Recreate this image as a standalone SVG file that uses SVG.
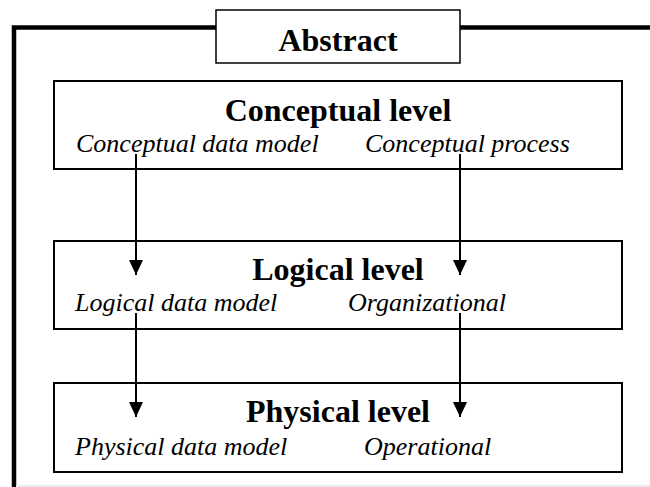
<svg xmlns="http://www.w3.org/2000/svg" width="650" height="487" viewBox="0 0 650 487">
  <defs>
    <style>
      .frame { fill: none; stroke: #000; stroke-width: 4.5; }
      .box { fill: #fff; stroke: #000; stroke-width: 2; }
      .tag { fill: #fff; stroke: #000; stroke-width: 1.5; }
      .title { font-family: "Liberation Serif", "Times New Roman", serif; font-weight: bold; font-size: 32px; fill: #000; text-anchor: middle; }
      .item { font-family: "Liberation Serif", "Times New Roman", serif; font-style: italic; font-size: 26px; fill: #000; }
      .link { fill: none; stroke: #000; stroke-width: 2; marker-end: url(#head); }
    </style>
    <marker id="head" markerUnits="userSpaceOnUse" markerWidth="14" markerHeight="16" refX="15" refY="7" orient="auto">
      <path d="M0,0 L15,7 L0,14 Z" fill="#000"/>
    </marker>
  </defs>

  <rect width="650" height="487" fill="#fff"/>

  <!-- outer frame, open to the right and bottom -->
  <g id="frame">
    <path class="frame" d="M14,487 L14,27.5 L650,27.5"/>
    <line x1="16" y1="486" x2="650" y2="486" stroke="#ececec" stroke-width="2"/>
  </g>

  <g id="abstract">
    <rect class="tag" x="216" y="10" width="244" height="53"/>
    <text class="title" x="338" y="51">Abstract</text>
  </g>

  <g id="conceptual">
    <rect class="box" x="54" y="81" width="568" height="88"/>
    <text class="title" x="338" y="121">Conceptual level</text>
    <text class="item" x="76" y="152">Conceptual data model</text>
    <text class="item" x="365" y="152">Conceptual process</text>
  </g>

  <g id="logical">
    <rect class="box" x="54" y="241" width="568" height="88"/>
    <text class="title" x="338" y="280">Logical level</text>
    <text class="item" x="75" y="311">Logical data model</text>
    <text class="item" x="348" y="311">Organizational</text>
  </g>

  <g id="physical">
    <rect class="box" x="54" y="383" width="568" height="89"/>
    <text class="title" x="338" y="422">Physical level</text>
    <text class="item" x="75" y="455">Physical data model</text>
    <text class="item" x="364" y="455">Operational</text>
  </g>

  <g id="connectors">
    <line class="link" x1="136" y1="154" x2="136" y2="275"/>
    <line class="link" x1="460" y1="154" x2="460" y2="275"/>
    <line class="link" x1="136" y1="313" x2="136" y2="417"/>
    <line class="link" x1="460" y1="313" x2="460" y2="417"/>
  </g>
</svg>
